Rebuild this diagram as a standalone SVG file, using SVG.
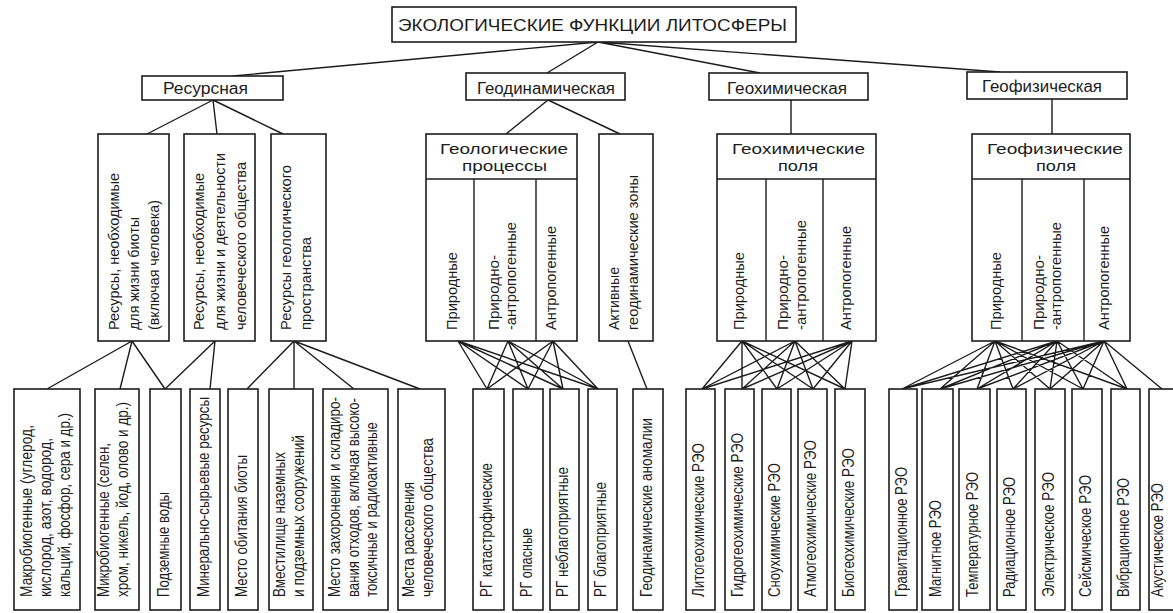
<svg xmlns="http://www.w3.org/2000/svg" width="1173" height="613" viewBox="0 0 1173 613">
<style>
.b{fill:#fff;stroke:#1c1c1c;stroke-width:1.6}
.l{stroke:#1c1c1c;stroke-width:1.4;fill:none}
text{font-family:"Liberation Sans",Arial,sans-serif;fill:#1c1c1c}
.h{font-size:16px}
.t{font-size:17px}
.p{font-size:15px}
.v{font-size:15px}
.w{font-size:16px}
</style>
<rect width="1173" height="613" fill="#fff"/>
<g id="connectors">
<path class="l" d="M598 42L233 76M598 42L547 73M598 42L760 73M598 42L1000 72"/>
<path class="l" d="M213 100L147 134M213 100L217 134M213 100L283 134"/>
<path class="l" d="M548 100L506 134M548 100L620 134"/>
<path class="l" d="M791 100V134M1052 99V134"/>
<path class="l" d="M132 341L47 389M132 341L120 389M132 341L165 389M215 341L165 389M215 341L210 389"/>
<path class="l" d="M294 341L247 389M294 341L294 389M294 341L354 389M294 341L420 389"/>
<path class="l" d="M628 341L647 389"/>
<path class="l" d="M458 341L487 389M458 341L528 389M458 341L563 389M458 341L598 389M508 341L487 389M508 341L528 389M508 341L563 389M508 341L598 389M553 341L487 389M553 341L528 389M553 341L563 389M553 341L598 389"/>
<path class="l" d="M742 341L702 389M742 341L742 389M742 341L777 389M742 341L813 389M742 341L845 389M795 341L702 389M795 341L742 389M795 341L777 389M795 341L813 389M795 341L845 389M852 341L702 389M852 341L742 389M852 341L777 389M852 341L813 389M852 341L845 389"/>
<path class="l" d="M995 341L902 389M995 341L940 389M995 341L977 389M995 341L1013 389M995 341L1050 389M995 341L1083 389M995 341L1127 389M1057 341L902 389M1057 341L940 389M1057 341L977 389M1057 341L1013 389M1057 341L1050 389M1057 341L1083 389M1057 341L1127 389M1104 341L902 389M1104 341L940 389M1104 341L977 389M1104 341L1013 389M1104 341L1050 389M1104 341L1083 389M1104 341L1127 389M1104 341L1162 389"/>
</g>
<g id="title"><rect class="b" x="392" y="7" width="404" height="35"/><text class="t" x="398" y="31" textLength="389" lengthAdjust="spacingAndGlyphs">ЭКОЛОГИЧЕСКИЕ ФУНКЦИИ ЛИТОСФЕРЫ</text></g>
<g id="resursnaya"><rect class="b" x="142" y="76" width="141" height="24"/><text class="h" x="163" y="94" textLength="85" lengthAdjust="spacingAndGlyphs">Ресурсная</text></g>
<g id="geodin"><rect class="b" x="466" y="73" width="159" height="27"/><text class="h" x="477" y="93.5" textLength="138" lengthAdjust="spacingAndGlyphs">Геодинамическая</text></g>
<g id="geohim"><rect class="b" x="709" y="73" width="159" height="27"/><text class="h" x="727" y="93.5" textLength="120" lengthAdjust="spacingAndGlyphs">Геохимическая</text></g>
<g id="geofiz"><rect class="b" x="967" y="72" width="160" height="27"/><text class="h" x="982" y="91.5" textLength="120" lengthAdjust="spacingAndGlyphs">Геофизическая</text></g>

<g id="res1"><rect class="b" x="98" y="134" width="71" height="207"/>
<text class="v" transform="translate(119,330) rotate(-90)" textLength="157" lengthAdjust="spacingAndGlyphs">Ресурсы, необходимые</text>
<text class="v" transform="translate(139,330) rotate(-90)" textLength="113" lengthAdjust="spacingAndGlyphs">для жизни биоты</text>
<text class="v" transform="translate(159,330) rotate(-90)" textLength="130" lengthAdjust="spacingAndGlyphs">(включая человека)</text></g>
<g id="res2"><rect class="b" x="184" y="134" width="71" height="207"/>
<text class="v" transform="translate(204,330) rotate(-90)" textLength="157" lengthAdjust="spacingAndGlyphs">Ресурсы, необходимые</text>
<text class="v" transform="translate(225,330) rotate(-90)" textLength="177" lengthAdjust="spacingAndGlyphs">для жизни и деятельности</text>
<text class="v" transform="translate(246,330) rotate(-90)" textLength="168" lengthAdjust="spacingAndGlyphs">человеческого общества</text></g>
<g id="res3"><rect class="b" x="271" y="134" width="55" height="207"/>
<text class="v" transform="translate(291,330) rotate(-90)" textLength="165" lengthAdjust="spacingAndGlyphs">Ресурсы геологического</text>
<text class="v" transform="translate(311,330) rotate(-90)" textLength="93" lengthAdjust="spacingAndGlyphs">пространства</text></g>

<g id="geoproc"><rect class="b" x="426" y="134" width="151" height="207"/><path class="l" d="M426 179H577M474 179V341M536 179V341"/>
<text class="p" x="440" y="154" textLength="128" lengthAdjust="spacingAndGlyphs">Геологические</text>
<text class="p" x="462" y="171" textLength="85" lengthAdjust="spacingAndGlyphs">процессы</text>
<text class="v" transform="translate(457,330) rotate(-90)" textLength="78" lengthAdjust="spacingAndGlyphs">Природные</text>
<text class="v" transform="translate(499,330) rotate(-90)" textLength="75" lengthAdjust="spacingAndGlyphs">Природно-</text>
<text class="v" transform="translate(516,330) rotate(-90)" textLength="108" lengthAdjust="spacingAndGlyphs">-антропогенные</text>
<text class="v" transform="translate(556,330) rotate(-90)" textLength="104" lengthAdjust="spacingAndGlyphs">Антропогенные</text></g>
<g id="activezones"><rect class="b" x="599" y="134" width="54" height="207"/>
<text class="v" transform="translate(619,330) rotate(-90)" textLength="63" lengthAdjust="spacingAndGlyphs">Активные</text>
<text class="v" transform="translate(638,330) rotate(-90)" textLength="155" lengthAdjust="spacingAndGlyphs">геодинамические зоны</text></g>

<g id="geohimpolya"><rect class="b" x="717" y="134" width="159" height="207"/><path class="l" d="M717 179H876M766 179V341M823 179V341"/>
<text class="p" x="732" y="154" textLength="133" lengthAdjust="spacingAndGlyphs">Геохимические</text>
<text class="p" x="778" y="171" textLength="40" lengthAdjust="spacingAndGlyphs">поля</text>
<text class="v" transform="translate(744,330) rotate(-90)" textLength="78" lengthAdjust="spacingAndGlyphs">Природные</text>
<text class="v" transform="translate(788,330) rotate(-90)" textLength="75" lengthAdjust="spacingAndGlyphs">Природно-</text>
<text class="v" transform="translate(806,330) rotate(-90)" textLength="110" lengthAdjust="spacingAndGlyphs">-антропогенные</text>
<text class="v" transform="translate(851,330) rotate(-90)" textLength="104" lengthAdjust="spacingAndGlyphs">Антропогенные</text></g>

<g id="geofizpolya"><rect class="b" x="972" y="134" width="158" height="207"/><path class="l" d="M972 179H1130M1022 179V341M1084 179V341"/>
<text class="p" x="987" y="154" textLength="136" lengthAdjust="spacingAndGlyphs">Геофизические</text>
<text class="p" x="1036" y="171" textLength="40" lengthAdjust="spacingAndGlyphs">поля</text>
<text class="v" transform="translate(1001,330) rotate(-90)" textLength="78" lengthAdjust="spacingAndGlyphs">Природные</text>
<text class="v" transform="translate(1044,330) rotate(-90)" textLength="75" lengthAdjust="spacingAndGlyphs">Природно-</text>
<text class="v" transform="translate(1061,330) rotate(-90)" textLength="108" lengthAdjust="spacingAndGlyphs">-антропогенные</text>
<text class="v" transform="translate(1109,330) rotate(-90)" textLength="104" lengthAdjust="spacingAndGlyphs">Антропогенные</text></g>

<g id="makro"><rect class="b" x="14" y="389" width="66" height="221"/>
<text class="w" transform="translate(31.5,597) rotate(-90)" textLength="172" lengthAdjust="spacingAndGlyphs">Макробиогенные (углерод,</text>
<text class="w" transform="translate(50.5,597) rotate(-90)" textLength="159" lengthAdjust="spacingAndGlyphs">кислород, азот, водород,</text>
<text class="w" transform="translate(69.5,597) rotate(-90)" textLength="184" lengthAdjust="spacingAndGlyphs">кальций, фосфор, сера и др.)</text></g>
<g id="mikro"><rect class="b" x="95" y="389" width="44" height="221"/>
<text class="w" transform="translate(109,597) rotate(-90)" textLength="154" lengthAdjust="spacingAndGlyphs">Микробиогенные (селен,</text>
<text class="w" transform="translate(128,597) rotate(-90)" textLength="195" lengthAdjust="spacingAndGlyphs">хром, никель, йод, олово и др.)</text></g>
<g id="podzvody"><rect class="b" x="150" y="389" width="31" height="221"/>
<text class="w" transform="translate(169,597) rotate(-90)" textLength="105" lengthAdjust="spacingAndGlyphs">Подземные воды</text></g>
<g id="mineral"><rect class="b" x="190" y="389" width="30" height="221"/>
<text class="w" transform="translate(208.5,597) rotate(-90)" textLength="200" lengthAdjust="spacingAndGlyphs">Минерально-сырьевые ресурсы</text></g>
<g id="obitanie"><rect class="b" x="228" y="389" width="30" height="221"/>
<text class="w" transform="translate(246.5,597) rotate(-90)" textLength="142" lengthAdjust="spacingAndGlyphs">Место обитания биоты</text></g>
<g id="vmestilishe"><rect class="b" x="269" y="389" width="44" height="221"/>
<text class="w" transform="translate(285,597) rotate(-90)" textLength="145" lengthAdjust="spacingAndGlyphs">Вместилище наземных</text>
<text class="w" transform="translate(304,597) rotate(-90)" textLength="162" lengthAdjust="spacingAndGlyphs">и подземных сооружений</text></g>
<g id="zahoronenie"><rect class="b" x="323" y="389" width="65" height="221"/>
<text class="w" transform="translate(340,597) rotate(-90)" textLength="200" lengthAdjust="spacingAndGlyphs">Место захоронения и складиро-</text>
<text class="w" transform="translate(358.5,597) rotate(-90)" textLength="199" lengthAdjust="spacingAndGlyphs">вания отходов, включая высоко-</text>
<text class="w" transform="translate(377,597) rotate(-90)" textLength="175" lengthAdjust="spacingAndGlyphs">токсичные и радиоактивные</text></g>
<g id="rasselenie"><rect class="b" x="398" y="389" width="47" height="221"/>
<text class="w" transform="translate(413.5,597) rotate(-90)" textLength="115" lengthAdjust="spacingAndGlyphs">Места расселения</text>
<text class="w" transform="translate(432.5,597) rotate(-90)" textLength="159" lengthAdjust="spacingAndGlyphs">человеческого общества</text></g>
<g id="rg1"><rect class="b" x="473" y="389" width="31" height="221"/>
<text class="w" transform="translate(492,597) rotate(-90)" textLength="134" lengthAdjust="spacingAndGlyphs">РГ катастрофические</text></g>
<g id="rg2"><rect class="b" x="513" y="389" width="30" height="221"/>
<text class="w" transform="translate(531.5,597) rotate(-90)" textLength="69" lengthAdjust="spacingAndGlyphs">РГ опасные</text></g>
<g id="rg3"><rect class="b" x="550" y="389" width="29" height="221"/>
<text class="w" transform="translate(568,597) rotate(-90)" textLength="130" lengthAdjust="spacingAndGlyphs">РГ неблагоприятные</text></g>
<g id="rg4"><rect class="b" x="588" y="389" width="29" height="221"/>
<text class="w" transform="translate(606,597) rotate(-90)" textLength="115" lengthAdjust="spacingAndGlyphs">РГ благоприятные</text></g>
<g id="anomalii"><rect class="b" x="633" y="389" width="30" height="221"/>
<text class="w" transform="translate(651.5,597) rotate(-90)" textLength="179" lengthAdjust="spacingAndGlyphs">Геодинамические аномалии</text></g>
<g id="lito"><rect class="b" x="686" y="389" width="29" height="221"/>
<text class="w" transform="translate(704,597) rotate(-90)" textLength="154" lengthAdjust="spacingAndGlyphs">Литогеохимические РЭО</text></g>
<g id="gidro"><rect class="b" x="725" y="389" width="29" height="221"/>
<text class="w" transform="translate(743,597) rotate(-90)" textLength="164" lengthAdjust="spacingAndGlyphs">Гидрогеохимические РЭО</text></g>
<g id="snou"><rect class="b" x="762" y="389" width="29" height="221"/>
<text class="w" transform="translate(780,597) rotate(-90)" textLength="134" lengthAdjust="spacingAndGlyphs">Сноухимические РЭО</text></g>
<g id="atmo"><rect class="b" x="798" y="389" width="29" height="221"/>
<text class="w" transform="translate(816,597) rotate(-90)" textLength="157" lengthAdjust="spacingAndGlyphs">Атмогеохимические РЭО</text></g>
<g id="bio"><rect class="b" x="835" y="389" width="30" height="221"/>
<text class="w" transform="translate(853.5,597) rotate(-90)" textLength="149" lengthAdjust="spacingAndGlyphs">Биогеохимические РЭО</text></g>
<g id="grav"><rect class="b" x="889" y="389" width="28" height="221"/>
<text class="w" transform="translate(906.5,597) rotate(-90)" textLength="130" lengthAdjust="spacingAndGlyphs">Гравитационное РЭО</text></g>
<g id="magn"><rect class="b" x="922" y="389" width="31" height="221"/>
<text class="w" transform="translate(941,597) rotate(-90)" textLength="97" lengthAdjust="spacingAndGlyphs">Магнитное РЭО</text></g>
<g id="temp"><rect class="b" x="959" y="389" width="31" height="221"/>
<text class="w" transform="translate(978,597) rotate(-90)" textLength="125" lengthAdjust="spacingAndGlyphs">Температурное РЭО</text></g>
<g id="rad"><rect class="b" x="997" y="389" width="29" height="221"/>
<text class="w" transform="translate(1015,597) rotate(-90)" textLength="120" lengthAdjust="spacingAndGlyphs">Радиационное РЭО</text></g>
<g id="elektr"><rect class="b" x="1035" y="389" width="30" height="221"/>
<text class="w" transform="translate(1053.5,597) rotate(-90)" textLength="125" lengthAdjust="spacingAndGlyphs">Электрическое РЭО</text></g>
<g id="seism"><rect class="b" x="1072" y="389" width="30" height="221"/>
<text class="w" transform="translate(1090.5,597) rotate(-90)" textLength="122" lengthAdjust="spacingAndGlyphs">Сейсмическое РЭО</text></g>
<g id="vibr"><rect class="b" x="1111" y="389" width="29" height="221"/>
<text class="w" transform="translate(1129,597) rotate(-90)" textLength="119" lengthAdjust="spacingAndGlyphs">Вибрационное РЭО</text></g>
<g id="akust"><rect class="b" x="1149" y="389" width="31" height="221"/>
<text class="w" transform="translate(1163,597) rotate(-90)" textLength="114" lengthAdjust="spacingAndGlyphs">Акустическое РЭО</text></g>
</svg>
